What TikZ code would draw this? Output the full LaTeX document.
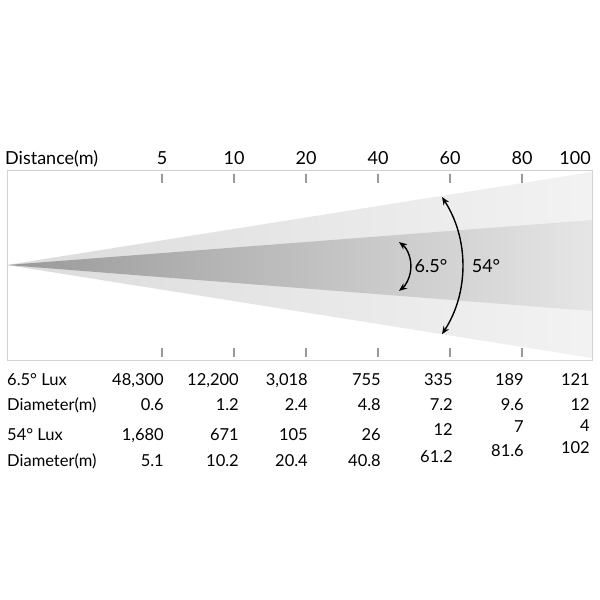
\documentclass[tikz,border=0pt]{standalone}
\usepackage{fontspec}
\setmainfont{Lato}
\usetikzlibrary{arrows.meta}
\definecolor{framegray}{HTML}{D2D2D2}
\definecolor{tickgray}{HTML}{9A9A9A}
\begin{document}
\begin{tikzpicture}[x=1pt,y=-1pt,
    txt/.style={font=\fontsize{16.5}{16.5}\selectfont,inner sep=0pt,text height=11.8pt,text depth=0pt},
    head/.style={txt,font=\fontsize{18}{18}\selectfont,text height=12.8pt},
    val/.style={txt,anchor=east},
    tickmark/.style={draw=tickgray,line width=2pt},
    beamarrow/.style={line width=1.4pt,{Stealth[length=8pt,width=6.5pt]}-{Stealth[length=8pt,width=6.5pt]}}]
    \useasboundingbox[fill=white] (0,0) rectangle (600,600);
    \coordinate (apex) at (7,265);
        % the two beams
        \shade[left color=black!14,middle color=black!12,right color=black!5] (apex) -- (592,172) -- (592,358) -- cycle;
        \shade[left color=black!40,middle color=black!31,right color=black!10] (apex) -- (592,220) -- (592,311) -- cycle;
    \node[draw=framegray,line width=1pt,minimum width=585pt,minimum height=190pt,inner sep=0pt] (frame) at (299.5,265) {};
            \foreach \x in {162,234,306,378,450,522} \draw[tickmark] (\x,174) -- (\x,183);
            \foreach \x in {162,234,306,378,450,522} \draw[tickmark] (\x,348) -- (\x,357);
    % distances
    \node[head,anchor=west] (dist) at (5,158) {Distance(m)};
      \foreach \x/\d in {162/5,234/10,306/20,378/40,450/60,522/80} \node[head] (d\d) at (\x,158) {\d};
      \node[head,anchor=east] (d100) at (591,158) {100};
    % angles
    \draw[beamarrow] (442,197) arc[start angle=33,end angle=-33,radius=126pt];
    \draw[beamarrow] (399,242) arc[start angle=52,end angle=-52,radius=31pt];
    \node[head] (wide) at (486,266) {54°};
    \node[head] (narrow) at (431,266) {6.5°};
    % table
    \node[txt,anchor=west] (luxa) at (7,380) {6.5° Lux};
    \node[txt,anchor=west] (diaa) at (7,405) {Diameter(m)};
    \node[txt,anchor=west] (luxb) at (7,435) {54° Lux};
    \node[txt,anchor=west] (diab) at (7,461) {Diameter(m)};
      \foreach \x/\v in {164/{48,300},239/{12,200},308/{3,018},381/755,453/335,524/189,590/121} \node[val] at (\x,380) {\v};
      \foreach \x/\v in {164/0.6,239/1.2,308/2.4,381/4.8,453/7.2,524/9.6,590/12} \node[val] at (\x,405) {\v};
      \foreach \x/\y/\v in {164/435/{1,680},239/435/671,308/435/105,381/435/26,453/430/12,524/427/7,590/426/4} \node[val] at (\x,\y) {\v};
      \foreach \x/\y/\v in {164/461/5.1,239/461/10.2,308/461/20.4,381/461/40.8,453/457/61.2,524/451/81.6,590/448/102} \node[val] at (\x,\y) {\v};
\end{tikzpicture}
\end{document}
